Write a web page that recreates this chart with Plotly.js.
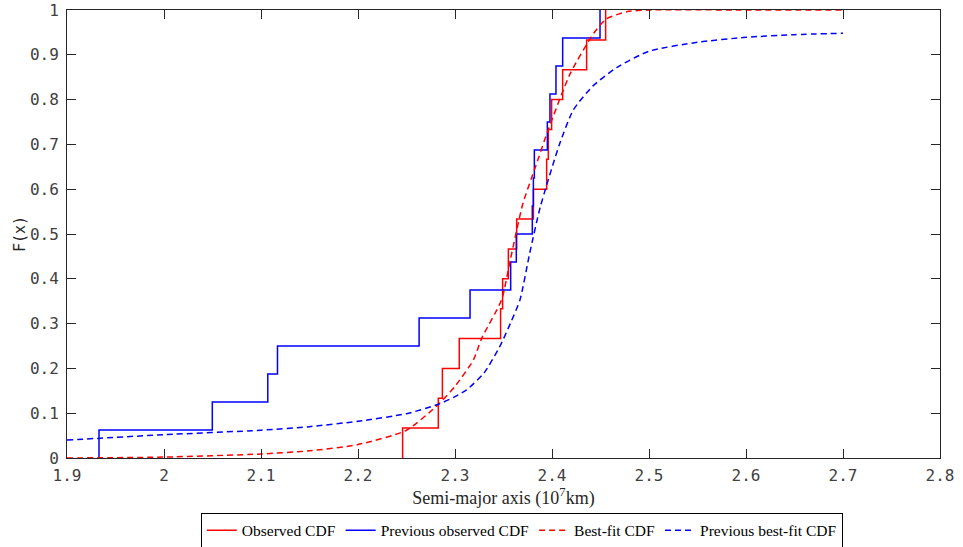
<!DOCTYPE html>
<html>
<head>
<meta charset="utf-8">
<script src="https://cdn.plot.ly/plotly-3.0.1.min.js"></script>
<style>html,body{margin:0;padding:0;background:#fff;}#chart{width:963px;height:547px;}</style>
</head>
<body>
<div id="chart"></div>
<script>
// Observed CDF (red, 15 samples)
const obsX = [2.246, 2.2828, 2.287, 2.3044, 2.347, 2.3491, 2.355, 2.3636, 2.3808, 2.3945, 2.3962, 2.3996, 2.411, 2.4357, 2.4553];
const obsY = [0.0667, 0.1333, 0.2, 0.2667, 0.3333, 0.4, 0.4667, 0.5333, 0.6, 0.6667, 0.7333, 0.8, 0.8667, 0.9333, 1.0];
// Previous observed CDF (blue, 16 samples)
const prevX = [1.933, 2.0498, 2.107, 2.117, 2.263, 2.3155, 2.3574, 2.3632, 2.3797, 2.3808, 2.3818, 2.3952, 2.3979, 2.4041, 2.411, 2.4495];
const prevY = [0.0625, 0.125, 0.1875, 0.25, 0.3125, 0.375, 0.4375, 0.5, 0.5625, 0.625, 0.6875, 0.75, 0.8125, 0.875, 0.9375, 1.0];
// Best-fit CDF (red dashed)
const fitX = [1.9, 2.0, 2.1, 2.15, 2.2, 2.25, 2.283, 2.3, 2.319, 2.3275, 2.348, 2.357, 2.37, 2.383, 2.396, 2.419, 2.443, 2.456, 2.477, 2.5, 2.6, 2.7];
const fitY = [0.0, 0.002, 0.009, 0.016, 0.03, 0.062, 0.12, 0.16, 0.219, 0.267, 0.353, 0.442, 0.568, 0.65, 0.732, 0.859, 0.948, 0.98, 0.996, 1.0, 1.0, 1.0];
// Previous best-fit CDF (blue dashed)
const pfitX = [1.9, 2.0, 2.1, 2.15, 2.2, 2.25, 2.283, 2.3, 2.312, 2.33, 2.346, 2.357, 2.367, 2.377, 2.388, 2.408, 2.422, 2.442, 2.467, 2.5, 2.55, 2.6, 2.65, 2.7];
const pfitY = [0.04, 0.052, 0.062, 0.07, 0.082, 0.099, 0.12, 0.137, 0.152, 0.19, 0.248, 0.3, 0.353, 0.457, 0.561, 0.702, 0.777, 0.83, 0.872, 0.908, 0.928, 0.939, 0.945, 0.948];

const xTicks = [1.9, 2.0, 2.1, 2.2, 2.3, 2.4, 2.5, 2.6, 2.7, 2.8];
const xTickText = ['1.9', '2', '2.1', '2.2', '2.3', '2.4', '2.5', '2.6', '2.7', '2.8'];
const yTicks = [0, 0.1, 0.2, 0.3, 0.4, 0.5, 0.6, 0.7, 0.8, 0.9, 1];
const yTickText = ['0', '0.1', '0.2', '0.3', '0.4', '0.5', '0.6', '0.7', '0.8', '0.9', '1'];

function stepTrace(xs, ys) {
  const x = [xs[0]], y = [0];
  for (let i = 0; i < xs.length; i++) { x.push(xs[i]); y.push(ys[i]); }
  return {x, y};
}
const obs = stepTrace(obsX, obsY);
const prev = stepTrace(prevX, prevY);

const traces = [
  {x: obs.x, y: obs.y, mode: 'lines', line: {shape: 'hv', color: '#ff0000', width: 1.5}, name: 'Observed CDF'},
  {x: prev.x, y: prev.y, mode: 'lines', line: {shape: 'hv', color: '#0000ff', width: 1.5}, name: 'Previous observed CDF'},
  {x: fitX, y: fitY, mode: 'lines', line: {shape: 'spline', smoothing: 0.6, color: '#ff0000', width: 1.5, dash: '6px,4px'}, name: 'Best-fit CDF'},
  {x: pfitX, y: pfitY, mode: 'lines', line: {shape: 'spline', smoothing: 0.6, color: '#0000ff', width: 1.5, dash: '6px,4px'}, name: 'Previous best-fit CDF'}
];

const tickFont = {family: 'DejaVu Sans Mono', size: 16, color: '#404040'};
const layout = {
  width: 963, height: 547,
  margin: {l: 67, r: 23, t: 10, b: 89, autoexpand: false},
  paper_bgcolor: '#fff', plot_bgcolor: '#fff',
  showlegend: true,
  xaxis: {
    range: [1.9, 2.8], tickvals: xTicks, ticktext: xTickText,
    ticks: 'inside', ticklen: 9, tickcolor: '#262626', tickwidth: 1,
    showline: true, linecolor: '#262626', linewidth: 1, mirror: 'ticks',
    showgrid: false, zeroline: false, tickfont: tickFont, ticklabelstandoff: 3,
    automargin: false,
    title: {text: 'Semi-major axis (10<sup>7</sup>km)', font: {family: 'Liberation Serif', size: 18, color: '#262626'}, standoff: 4}
  },
  yaxis: {
    range: [0, 1], tickvals: yTicks, ticktext: yTickText,
    ticks: 'inside', ticklen: 9, tickcolor: '#262626', tickwidth: 1,
    showline: true, linecolor: '#262626', linewidth: 1, mirror: 'ticks',
    showgrid: false, zeroline: false, tickfont: tickFont, ticklabelstandoff: 4,
    automargin: false,
    title: {text: 'F(x)', font: {family: 'DejaVu Sans Mono', size: 15, color: '#262626'}, standoff: 0}
  },
  legend: {
    orientation: 'h', x: 0.521, xanchor: 'center', y: -0.122, yanchor: 'top',
    bordercolor: '#000', borderwidth: 1, bgcolor: '#fff',
    font: {family: 'Liberation Serif', size: 15.5, color: '#000'},
    itemwidth: 30, tracegroupgap: 0, valign: 'middle'
  }
};
Plotly.newPlot('chart', traces, layout, {displayModeBar: false, staticPlot: true});
</script>
</body>
</html>
